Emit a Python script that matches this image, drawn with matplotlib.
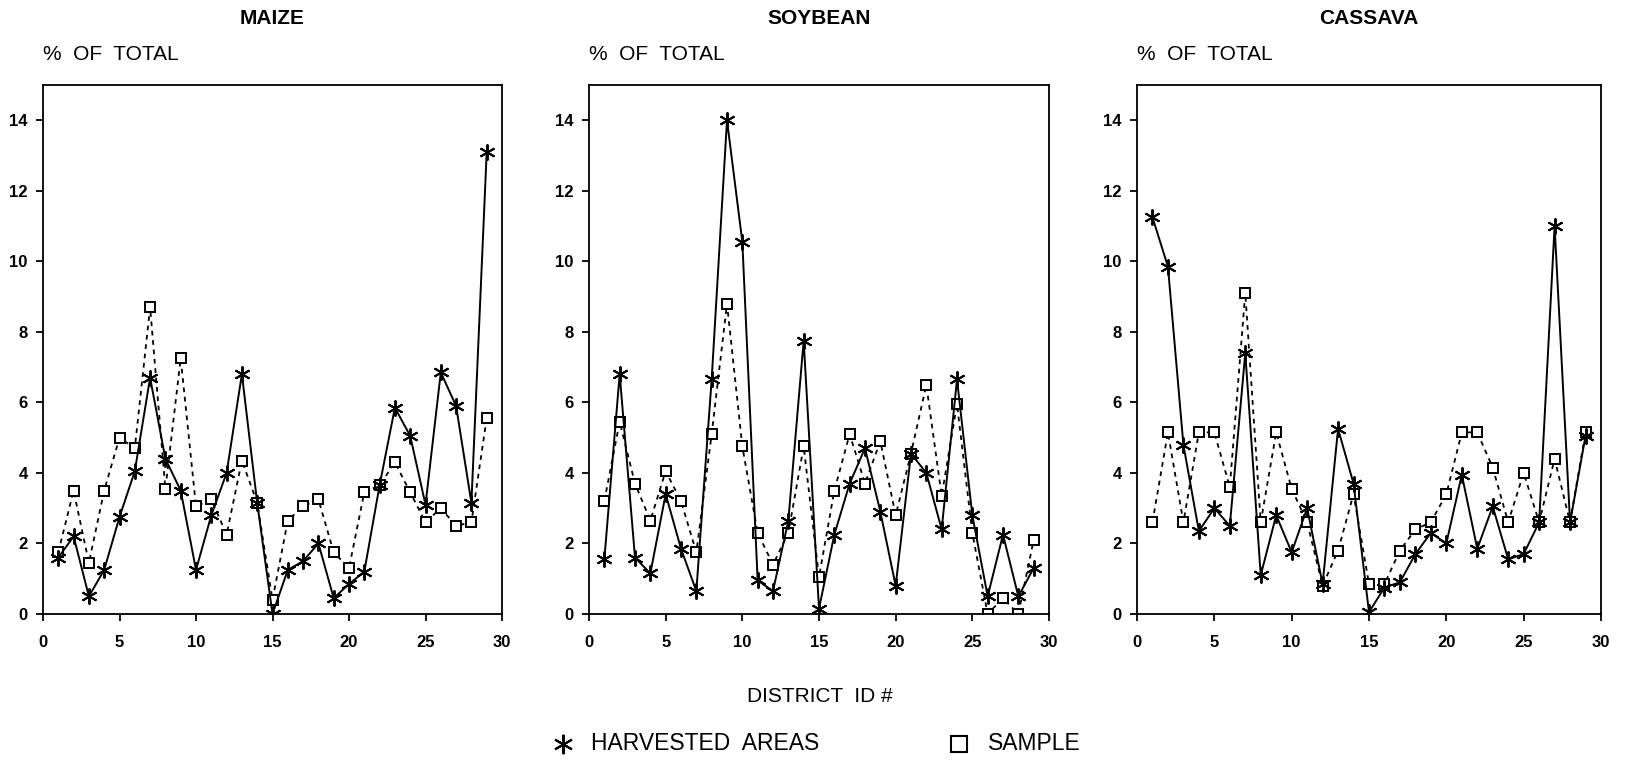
import matplotlib
matplotlib.use("Agg")
import matplotlib.pyplot as plt
from matplotlib.lines import Line2D

plt.rcParams['font.family'] = ['Liberation Sans', 'DejaVu Sans']

# District ids 1..29
districts = list(range(1, 30))

# Percent of total, harvested areas vs. sample, per crop
maize_harvested = [1.6, 2.2, 0.5, 1.25, 2.75, 4.05, 6.7, 4.4, 3.5, 1.25,
                   2.8, 4.0, 6.8, 3.15, 0.0, 1.25, 1.5, 2.0, 0.45, 0.85,
                   1.2, 3.65, 5.85, 5.05, 3.1, 6.85, 5.9, 3.15, 13.1]
maize_sample = [1.75, 3.5, 1.45, 3.5, 5.0, 4.7, 8.7, 3.55, 7.25, 3.05,
                3.25, 2.25, 4.35, 3.15, 0.4, 2.65, 3.05, 3.25, 1.75, 1.3,
                3.45, 3.65, 4.3, 3.45, 2.6, 3.0, 2.5, 2.6, 5.55]

soy_harvested = [1.55, 6.8, 1.6, 1.15, 3.4, 1.85, 0.65, 6.65, 14.0, 10.55,
                 0.95, 0.65, 2.65, 7.75, 0.15, 2.25, 3.7, 4.7, 2.9, 0.8,
                 4.55, 4.0, 2.4, 6.65, 2.8, 0.5, 2.25, 0.5, 1.3]
soy_sample = [3.2, 5.45, 3.7, 2.65, 4.05, 3.2, 1.75, 5.1, 8.8, 4.75,
              2.3, 1.4, 2.3, 4.75, 1.05, 3.5, 5.1, 3.7, 4.9, 2.8,
              4.55, 6.5, 3.35, 5.95, 2.3, 0.0, 0.45, 0.0, 2.1]

cassava_harvested = [11.25, 9.85, 4.8, 2.35, 3.0, 2.5, 7.4, 1.1, 2.8, 1.75,
                     3.0, 0.85, 5.25, 3.7, 0.05, 0.75, 0.9, 1.7, 2.3, 2.0,
                     3.95, 1.85, 3.05, 1.55, 1.7, 2.6, 11.0, 2.6, 5.05]
cassava_sample = [2.6, 5.15, 2.6, 5.15, 5.15, 3.6, 9.1, 2.6, 5.15, 3.55,
                  2.6, 0.8, 1.8, 3.4, 0.85, 0.85, 1.8, 2.4, 2.6, 3.4,
                  5.15, 5.15, 4.15, 2.6, 4.0, 2.6, 4.4, 2.6, 5.15]

crops = ['MAIZE', 'SOYBEAN', 'CASSAVA']
harvested = [maize_harvested, soy_harvested, cassava_harvested]
sample = [maize_sample, soy_sample, cassava_sample]

x_ticks = [0, 5, 10, 15, 20, 25, 30]
y_ticks = [0, 2, 4, 6, 8, 10, 12, 14]

W, H = 1626, 760
fig = plt.figure(figsize=(W / 100, H / 100), dpi=100)

# panel boxes in pixels: left, right
boxes = [(43, 502), (589, 1049), (1137, 1601)]
top_px, bottom_px = 85, 614

asterisk = (6, 2, 0)

for (left, right), crop, h, s in zip(boxes, crops, harvested, sample):
    ax = fig.add_axes([left / W, 1 - bottom_px / H,
                       (right - left) / W, (bottom_px - top_px) / H])
    ax.plot(districts, s, color='black', lw=1.3, ls=(0, (2.6, 2.6)),
            marker='s', ms=7, mfc='white', mec='black', mew=1.4, zorder=2)
    ax.plot(districts, h, color='black', lw=1.4, ls='-',
            marker=asterisk, ms=11.5, mec='black', mew=1.4, zorder=3)
    ax.set_xlim(0, 30)
    ax.set_ylim(0, 15)
    ax.set_xticks(x_ticks)
    ax.set_yticks(y_ticks)
    ax.tick_params(axis='both', direction='out', length=5, width=1.3,
                   labelsize=12)
    ax.tick_params(axis='x', pad=10)
    ax.tick_params(axis='y', pad=6)
    for lab in ax.get_xticklabels() + ax.get_yticklabels():
        lab.set_fontweight('bold')
    for sp in ax.spines.values():
        sp.set_linewidth(1.3)
    ax.text(0.5, 1 + (top_px - 18) / (bottom_px - top_px), crop,
            transform=ax.transAxes, ha='center', va='center',
            fontsize=15, fontweight='bold')
    ax.text(0.0, 1 + (top_px - 55) / (bottom_px - top_px), '%  OF  TOTAL',
            transform=ax.transAxes, ha='left', va='center', fontsize=15)

fig.text(820 / W, 1 - 697 / H, 'DISTRICT  ID #', ha='center', va='center',
         fontsize=15)

# key below the panels
ly = 1 - 744 / H
fig.add_artist(Line2D([563 / W], [ly], marker=asterisk, ms=14, mew=1.5,
                      color='black', transform=fig.transFigure))
fig.text(591 / W, ly, 'HARVESTED  AREAS', ha='left', va='center',
         fontsize=16.5)
fig.add_artist(Line2D([959 / W], [ly], marker='s', ms=12, mew=1.5,
                      mfc='white', mec='black', transform=fig.transFigure))
fig.text(988 / W, ly, 'SAMPLE', ha='left', va='center', fontsize=16.5)

fig.savefig('out.png', dpi=100)
